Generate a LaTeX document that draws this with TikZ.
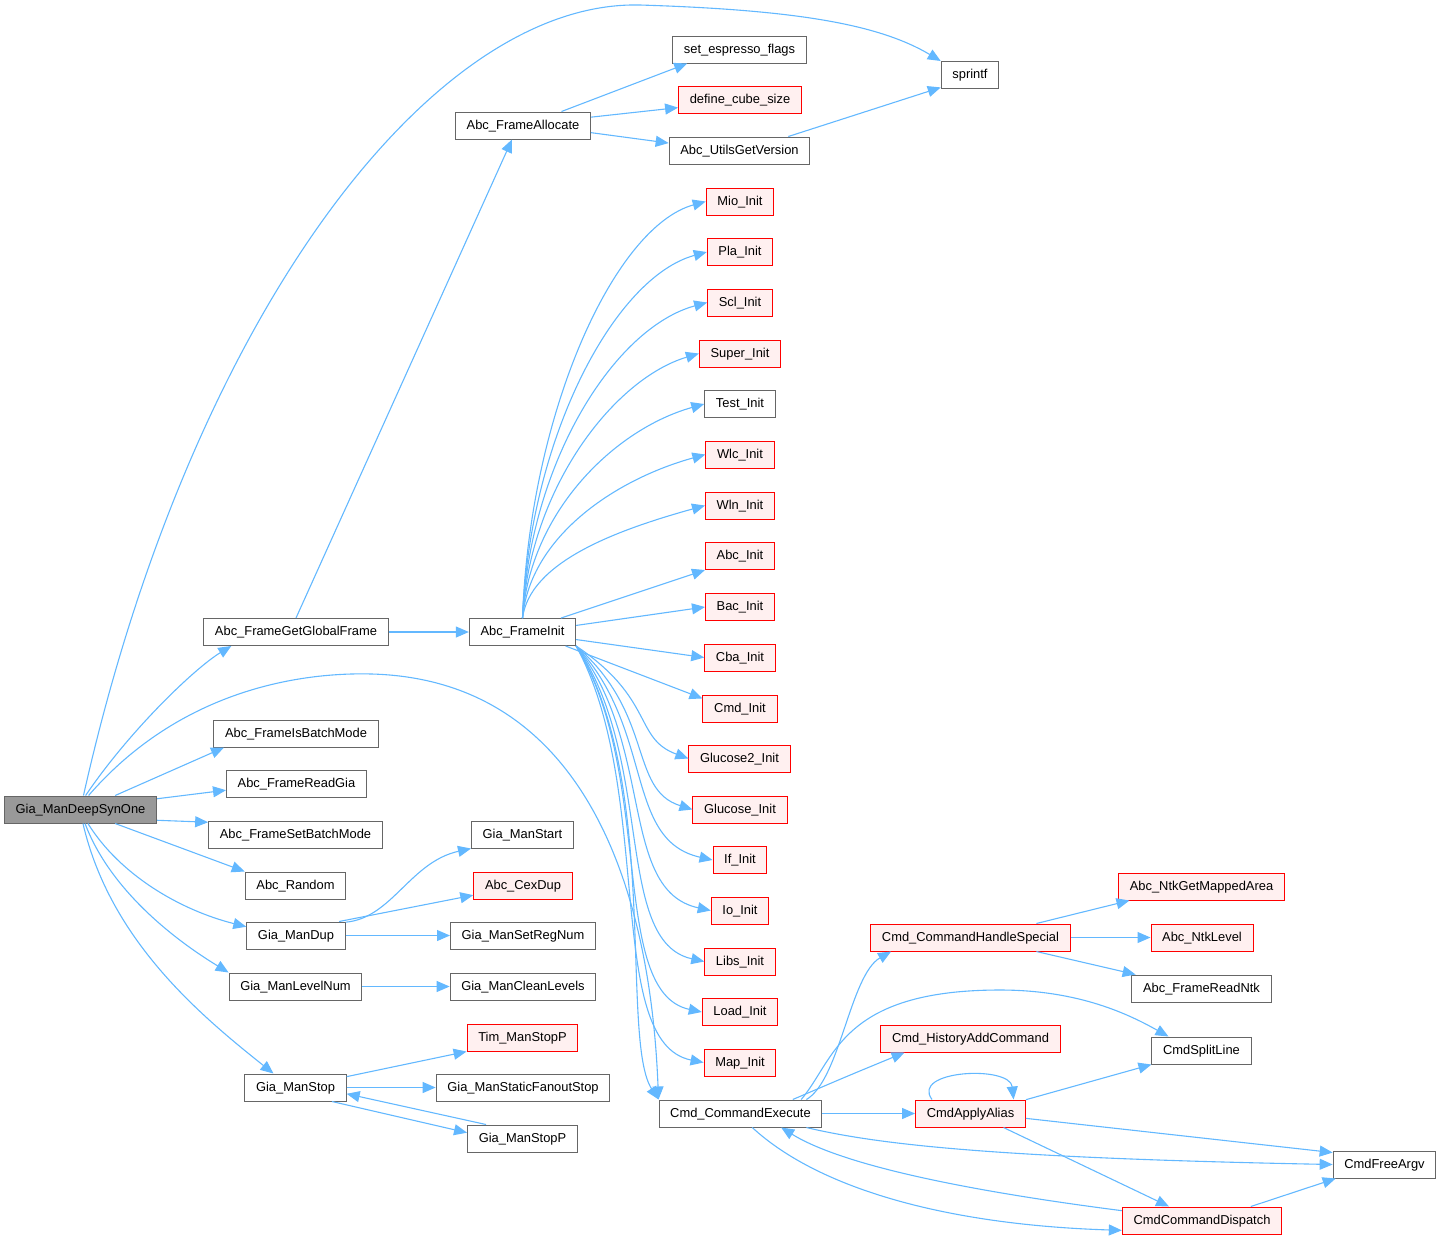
\documentclass[tikz,border=0pt]{standalone}
\usepackage{fontspec}
\setmainfont{Liberation Sans}
\usetikzlibrary{arrows.meta}
\definecolor{callblue}{HTML}{63B8FF}
\definecolor{boxgray}{HTML}{666666}
\definecolor{rootgray}{HTML}{999999}
\definecolor{truncfill}{HTML}{FFF0F0}
\tikzset{
  fn/.style={draw=boxgray, fill=white, line width=0.5pt, minimum height=13.5pt,
    inner xsep=5.6pt, inner ysep=0pt, text height=5.2pt, text depth=1.4pt,
    font=\fontsize{6.45}{7.5}\selectfont},
  trunc/.style={fn, draw=red, fill=truncfill},
  focus/.style={fn, fill=rootgray},
  call/.style={draw=callblue, line width=0.55pt, -{Triangle[length=6.5pt,width=5.5pt]}},
}
\begin{document}
\begin{tikzpicture}[x=0.5pt,y=-0.5pt]
\useasboundingbox (0,0) rectangle (1441,1239);
% column 1
\node[focus] (root) at (80.5,809.5) {Gia\_ManDeepSynOne};
% column 2
\node[fn] (ggf) at (296,632) {Abc\_FrameGetGlobalFrame};
\node[fn] (isbatch) at (296,733.5) {Abc\_FrameIsBatchMode};
\node[fn] (readgia) at (296.5,784) {Abc\_FrameReadGia};
\node[fn] (setbatch) at (295.5,834.5) {Abc\_FrameSetBatchMode};
\node[fn] (random) at (295.5,885.5) {Abc\_Random};
\node[fn] (gdup) at (296,935.5) {Gia\_ManDup};
\node[fn] (glevel) at (295.5,986.5) {Gia\_ManLevelNum};
\node[fn] (gstop) at (295.5,1087.5) {Gia\_ManStop};
% column 3
\node[fn] (fa) at (523,125.5) {Abc\_FrameAllocate};
\node[fn] (fi) at (522.5,632) {Abc\_FrameInit};
\node[fn] (gstart) at (522.5,834.5) {Gia\_ManStart};
\node[trunc] (cexdup) at (523,885.5) {Abc\_CexDup};
\node[fn] (setreg) at (523,935.5) {Gia\_ManSetRegNum};
\node[fn] (clean) at (523,986.5) {Gia\_ManCleanLevels};
\node[trunc] (timstop) at (522.5,1037.5) {Tim\_ManStopP};
\node[fn] (sfo) at (523,1087.5) {Gia\_ManStaticFanoutStop};
\node[fn] (stopp) at (522.5,1138.5) {Gia\_ManStopP};
% column 4
\node[fn] (sef) at (739.5,49.5) {set\_espresso\_flags};
\node[trunc] (dcs) at (740,100) {define\_cube\_size};
\node[fn] (ugv) at (739.5,150.5) {Abc\_UtilsGetVersion};
\node[trunc] (mio) at (740,201.5) {Mio\_Init};
\node[trunc] (pla) at (740,252) {Pla\_Init};
\node[trunc] (scl) at (740,302.5) {Scl\_Init};
\node[trunc] (super) at (740,353.5) {Super\_Init};
\node[fn] (test) at (740,404) {Test\_Init};
\node[trunc] (wlc) at (740,454.5) {Wlc\_Init};
\node[trunc] (wln) at (740,505.5) {Wln\_Init};
\node[trunc] (abcinit) at (740,556) {Abc\_Init};
\node[trunc] (bac) at (740,607) {Bac\_Init};
\node[trunc] (cba) at (740,657.5) {Cba\_Init};
\node[trunc] (cmdinit) at (740,708.5) {Cmd\_Init};
\node[trunc] (gltwo) at (739.5,758.5) {Glucose2\_Init};
\node[trunc] (glone) at (740,809.5) {Glucose\_Init};
\node[trunc] (ifinit) at (740,860) {If\_Init};
\node[trunc] (io) at (740,910.5) {Io\_Init};
\node[trunc] (libs) at (740,961.5) {Libs\_Init};
\node[trunc] (load) at (740,1012) {Load\_Init};
\node[trunc] (map) at (740,1062.5) {Map\_Init};
\node[fn] (cex) at (740.5,1113.5) {Cmd\_CommandExecute};
% column 5
\node[fn] (sprintf) at (970,75) {sprintf};
\node[trunc] (special) at (970.5,937.5) {Cmd\_CommandHandleSpecial};
\node[trunc] (hist) at (970.5,1038.5) {Cmd\_HistoryAddCommand};
\node[trunc] (alias) at (970.5,1113.5) {CmdApplyAlias};
% column 6
\node[trunc] (mapped) at (1201.5,886.5) {Abc\_NtkGetMappedArea};
\node[trunc] (ntklevel) at (1202,937.5) {Abc\_NtkLevel};
\node[fn] (readntk) at (1201.5,988.5) {Abc\_FrameReadNtk};
\node[fn] (split) at (1201.5,1050.5) {CmdSplitLine};
\node[trunc] (disp) at (1202,1220.5) {CmdCommandDispatch};
\node[fn] (freeargv) at (1384.5,1164.5) {CmdFreeArgv};

% calls of the root
\draw[call] (root.78) .. controls (190,320) and (430,0) .. (640,5)
  .. controls (800,10) and (880,25) .. (sprintf.north west);
\draw[call] (root.70) .. controls (130,730) and (195,668) .. ([xshift=14pt]ggf.south west);
\draw[call] (root.60) .. controls (180,690) and (300,672) .. (372,674)
  .. controls (580,680) and (650,880) .. (cex.north west);
\draw[call] (root.22) -- (isbatch.191);
\draw[call] (root.8) -- (readgia.185);
\draw[call] (root.-8) -- (setbatch.172);
\draw[call] (root.-22) -- (random.north west);
\draw[call] (root.-62) .. controls (120,875) and (180,910) .. (gdup.170);
\draw[call] (root.-72) .. controls (110,890) and (175,940) .. (glevel.north west);
\draw[call] (root.-80) .. controls (110,940) and (200,1015) .. ([xshift=-11pt]gstop.north);

% frame set-up
\draw[call] (ggf.north) -- ([xshift=-5.5pt]fa.south);
\draw[call] (ggf.east) -- (fi.west);
\draw[call] (fa.20) -- (sef.195);
\draw[call] (fa.7) -- (dcs.187);
\draw[call] (fa.-6) -- (ugv.174);
\draw[call] (ugv.16) -- (sprintf.203);

% package init calls
\foreach \n/\y in {mio/201.5,pla/252,scl/302.5,super/353.5,test/404,wlc/454.5,wln/505.5}
  \draw[call] (fi.north) .. controls (530,{(619+\y)/2}) and (615,\y+25) .. (\n.west);
\draw[call] (fi.20) -- (abcinit.south west);
\draw[call] (fi.7) -- (bac.west);
\draw[call] (fi.-8) -- (cba.west);
\draw[call] (fi.-18) -- (cmdinit.165);
\foreach \n/\y in {gltwo/758.5,glone/809.5,ifinit/860,io/910.5,libs/961.5,load/1012,map/1062.5}
  \draw[call] (fi.south east) .. controls (655,{665+0.3*(\y-645)}) and ({645-0.1*(\y-645)},\y-20) .. (\n.west);
\draw[call] (fi.south east) .. controls (660,780) and (620,1040) .. (cex.north west);

% gia calls
\draw[call] (gdup.15) .. controls (392,918) and (410,862) .. (gstart.south west);
\draw[call] (gdup.18) -- (cexdup.191);
\draw[call] (gdup.east) -- (setreg.west);
\draw[call] (glevel.east) -- (clean.west);
\draw[call] (gstop.12) -- (timstop.south west);
\draw[call] (gstop.east) -- (sfo.west);
\draw[call] (gstop.-21) -- (stopp.174);
\draw[call] (stopp.159) -- (gstop.-7);

% command execution
\draw[call] (cex.12) .. controls (840,1080) and (850,975) .. (special.190);
\draw[call] (cex.13) .. controls (835,1060) and (840,990) .. (1000,990)
  .. controls (1080,990) and (1130,1015) .. (split.157);
\draw[call] (cex.15) .. controls (850,1075) .. (hist.192);
\draw[call] (cex.east) -- (alias.west);
\draw[call] (cex.-12) .. controls (880,1145) and (1000,1158) .. (freeargv.west);
\draw[call] (cex.-50) .. controls (820,1190) and (950,1225) .. (disp.187);
\draw[call] (disp.173) .. controls (1000,1195) and (850,1170) .. (cex.-19);
\draw[call] (alias.160) .. controls (910,1070) and (1010,1065) .. (alias.18);
\draw[call] (alias.14) -- (split.south west);
\draw[call] (alias.-5) -- (freeargv.167);
\draw[call] (alias.-23) -- (disp.157);
\draw[call] (disp.16) -- (freeargv.196);
\draw[call] (special.12) -- (mapped.191);
\draw[call] (special.east) -- (ntklevel.west);
\draw[call] (special.-12) -- (readntk.168);
\end{tikzpicture}
\end{document}
